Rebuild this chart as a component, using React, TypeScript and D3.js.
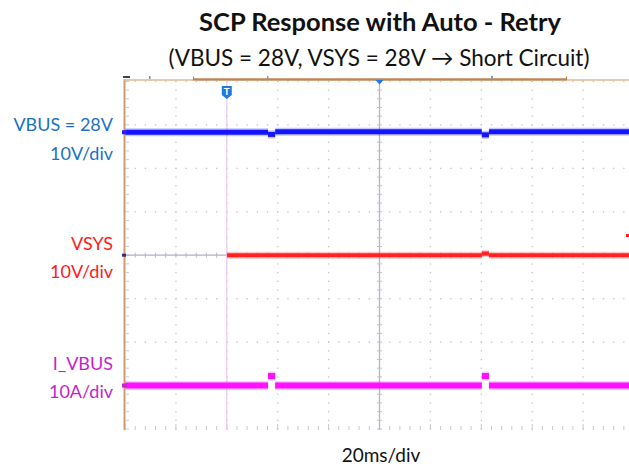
import React from "react";
import * as d3 from "d3";

// ---- data (read from the scope capture) ----
const TIME_PER_DIV_MS = 20;
const H_DIVS = 10;
const V_DIVS = 8;
const TRIGGER_MS = 40;

// VBUS (V), 10 V/div, offset 0 div — step segments
const vbusStart = [0, 56.2, 59.0, 140.2, 143.0];
const vbusEnd = [56.2, 59.0, 140.2, 143.0, 200];
const vbusVolts = [28.3, 27.8, 28.4, 27.7, 28.4];

// VSYS (V), 10 V/div, offset 0 div — shown from trigger on
const vsysStart = [40.1, 140.2, 143.0];
const vsysEnd = [140.2, 143.0, 200];
const vsysVolts = [0, 0.4, 0];

// I_VBUS (A), 10 A/div, offset -3 div
const ibusStart = [0, 56.2, 59.0, 140.2, 143.0];
const ibusEnd = [56.2, 59.0, 140.2, 143.0, 200];
const ibusAmps = [0, 2.2, 0, 2.2, 0];

const channelNames = ["VBUS = 28V", "VSYS", "I_VBUS"];
const channelScales = ["10V/div", "10V/div", "10A/div"];
const channelColors = ["#1a72c4", "#ff1a1a", "#c81ec8"];
const traceColors = ["#1414ff", "#ff2222", "#ff10ff"];
const voltsPerDiv = [10, 10, 10];
const offsetDiv = [0, 0, -3];

const title = "SCP Response with Auto - Retry";
const subtitle = "(VBUS = 28V, VSYS = 28V \u2192 Short Circuit)";
const timebase = "20ms/div";

const W = 629;
const H = 466;
const font = "Lato, 'Open Sans', sans-serif";

export default function App() {
  const x = d3.scaleLinear().domain([0, H_DIVS * TIME_PER_DIV_MS]).range([125, 634]);
  const y = d3.scaleLinear().domain([-V_DIVS / 2, V_DIVS / 2]).range([429, 81.4]);
  const line = d3
    .line<[number, number]>()
    .x((d) => x(d[0]))
    .y((d) => y(d[1]));

  const xMaj = d3.range(0, H_DIVS + 1).map((k) => x(k * TIME_PER_DIV_MS));
  const yMaj = d3.range(-V_DIVS / 2, V_DIVS / 2 + 1).map((v) => y(v));
  const xMin = d3.range(0, H_DIVS * 5 + 1).map((k) => x((k * TIME_PER_DIV_MS) / 5));
  const yMin = d3.range(-V_DIVS * 2.5, V_DIVS * 2.5 + 1).map((k) => y(k / 5));
  const cx = x((H_DIVS / 2) * TIME_PER_DIV_MS);
  const cy = y(0);

  const segs = (starts: number[], ends: number[], vals: number[], ch: number) =>
    starts.map((s, i) => {
      const dv = vals[i] / voltsPerDiv[ch] + offsetDiv[ch];
      return line([
        [s, dv],
        [ends[i], dv],
      ]) as string;
    });

  const traces = [
    segs(vbusStart, vbusEnd, vbusVolts, 0),
    segs(vsysStart, vsysEnd, vsysVolts, 1),
    segs(ibusStart, ibusEnd, ibusAmps, 2),
  ];
  const widths = [5, 4, 6];

  const gridDots: React.ReactNode[] = [];
  xMaj.forEach((gx, i) => {
    if (i === 0 || i === 5 || i === 10) return;
    yMin.forEach((gy, j) =>
      gridDots.push(
        <rect key={`v${i}-${j}`} x={gx - 0.6} y={gy - 0.6} width={1.3} height={1.3} fill="#c4c4c4" />
      )
    );
  });
  yMaj.forEach((gy, i) => {
    if (i === 0 || i === 4) return;
    xMin.forEach((gx, j) =>
      gridDots.push(
        <rect key={`h${i}-${j}`} x={gx - 0.6} y={gy - 0.6} width={1.3} height={1.3} fill="#c4c4c4" />
      )
    );
  });

  const labelYs = [
    [131, 160],
    [250, 278],
    [370, 398],
  ];

  return (
    <svg
      width={W}
      height={H}
      style={{ position: "absolute", left: 0, top: 0, background: "#fff" }}
      fontFamily={font}
    >
      <rect width={W} height={H} fill="#fff" />
      <text x={380} y={31} textAnchor="middle" fontSize={25.5} fontWeight="bold" fill="#111">
        {title}
      </text>
      <text x={379} y={66} textAnchor="middle" fontSize={22.5} fill="#111">
        {subtitle}
      </text>

      {/* grid */}
      <g>{gridDots}</g>
      {/* bottom ticks */}
      {xMin.map((gx, j) => (
        <line key={`bt${j}`} x1={gx} x2={gx} y1={j % 5 === 0 ? 424 : 426} y2={430} stroke="#c8c8c8" strokeWidth={1} />
      ))}
      {/* left ticks */}
      {yMin.map((gy, j) => (
        <line key={`lt${j}`} x1={126} x2={129} y1={gy} y2={gy} stroke="#cccccc" strokeWidth={1} />
      ))}
      {/* center lines */}
      <line x1={cx} x2={cx} y1={81} y2={430} stroke="#b4b4c8" strokeWidth={1.3} />
      {yMin.map((gy, j) => (
        <line key={`cv${j}`} x1={cx - 2.5} x2={cx + 2.5} y1={gy} y2={gy} stroke="#c0c0cc" strokeWidth={1} />
      ))}
      <line x1={125} x2={W} y1={cy} y2={cy} stroke="#b0b0c0" strokeWidth={1.3} />
      {xMin.map((gx, j) => (
        <line key={`ch${j}`} x1={gx} x2={gx} y1={cy - 2.5} y2={cy + 2.5} stroke="#b8b8c8" strokeWidth={1} />
      ))}
      {/* trigger line */}
      <line x1={x(TRIGGER_MS)} x2={x(TRIGGER_MS)} y1={81} y2={430} stroke="#ecc8f2" strokeWidth={1.2} />

      {/* traces: fringe + core */}
      {traces.map((ts, c) =>
        ts.map((d, i) => (
          <g key={`t${c}-${i}`}>
            <path d={d} stroke={traceColors[c]} strokeOpacity={0.25} strokeWidth={widths[c] + 3} fill="none" />
            <path d={d} stroke={traceColors[c]} strokeWidth={widths[c]} fill="none" />
          </g>
        ))
      )}

      {/* frame */}
      <line x1={124.5} x2={124.5} y1={79} y2={430} stroke="#cf9a70" strokeWidth={2} />
      <line x1={124} x2={W} y1={80} y2={80} stroke="#ddb896" strokeWidth={1.5} />
      <line x1={193} x2={567} y1={79.3} y2={79.3} stroke="#c08456" strokeWidth={2.2} />
      <line x1={193.5} x2={193.5} y1={76.5} y2={80} stroke="#b8794a" strokeWidth={1} />
      <line x1={566.5} x2={566.5} y1={76.5} y2={80} stroke="#b8794a" strokeWidth={1} />
      <rect x={149} y={76} width={1.5} height={3} fill="#888" />
      <rect x={267} y={76} width={1.5} height={3} fill="#999" />
      <rect x={491} y={76} width={2} height={3} fill="#999" />
      <rect x={123} y={76} width={7} height={2} fill="#444" />

      {/* markers */}
      <path d={`M${x(TRIGGER_MS) - 5},86 h10 v9 l-5,4 l-5,-4 z`} fill="#1f7ae0" />
      <text x={x(TRIGGER_MS)} y={95} textAnchor="middle" fontSize={10} fontWeight="bold" fill="#fff">
        T
      </text>
      <path d={`M${cx - 4},80 h8 l-4,4.5 z`} fill="#1f7ae0" />
      <rect x={122} y={y(2.83) - 2} width={5} height={4} fill="#2020ff" />
      <rect x={122} y={cy - 1.5} width={4} height={3} fill="#303080" />
      <rect x={122} y={y(-3) - 2} width={5} height={4} fill="#d020d0" />
      <rect x={626} y={234} width={3} height={3} fill="#ff2020" />

      {/* channel labels */}
      {channelNames.map((n, i) => (
        <g key={n} fill={channelColors[i]} fontSize={18} textAnchor="end">
          <text x={113} y={labelYs[i][0]}>{n}</text>
          <text x={113} y={labelYs[i][1]}>{channelScales[i]}</text>
        </g>
      ))}

      <text x={381} y={462} textAnchor="middle" fontSize={19} fill="#111">
        {timebase}
      </text>
    </svg>
  );
}
